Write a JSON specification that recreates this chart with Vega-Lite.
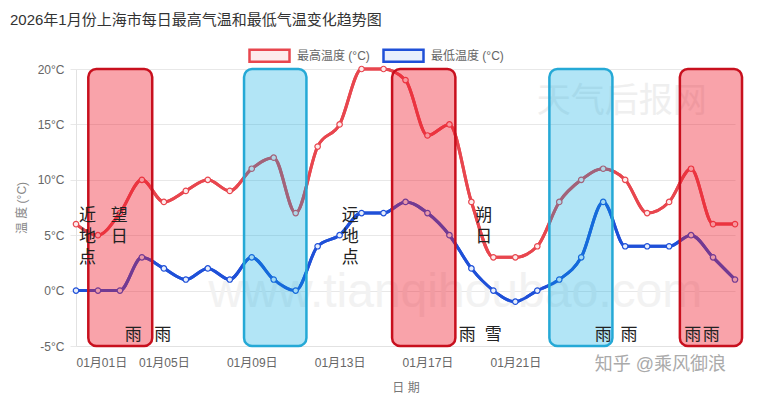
{
  "$schema": "https://vega.github.io/schema/vega-lite/v6.json",
  "width": 659,
  "height": 277,
  "autosize": {"type": "none"},
  "padding": {"left": 76, "top": 69, "right": 28, "bottom": 54},
  "background": "white",
  "config": {
    "font": "'Liberation Sans', 'Noto Sans CJK SC', sans-serif",
    "view": {"stroke": null}
  },
  "title": {
    "text": "2026年1月份上海市每日最高气温和最低气温变化趋势图",
    "anchor": "start",
    "frame": "group",
    "dx": -66,
    "dy": 8,
    "offset": 14,
    "fontSize": 15,
    "fontWeight": "normal",
    "color": "#333333"
  },
  "datasets": {
    "temps": [
      {"day": 1, "series": "最高温度 (°C)", "temp": 6},
      {"day": 2, "series": "最高温度 (°C)", "temp": 5},
      {"day": 3, "series": "最高温度 (°C)", "temp": 7},
      {"day": 4, "series": "最高温度 (°C)", "temp": 10},
      {"day": 5, "series": "最高温度 (°C)", "temp": 8},
      {"day": 6, "series": "最高温度 (°C)", "temp": 9},
      {"day": 7, "series": "最高温度 (°C)", "temp": 10},
      {"day": 8, "series": "最高温度 (°C)", "temp": 9},
      {"day": 9, "series": "最高温度 (°C)", "temp": 11},
      {"day": 10, "series": "最高温度 (°C)", "temp": 12},
      {"day": 11, "series": "最高温度 (°C)", "temp": 7},
      {"day": 12, "series": "最高温度 (°C)", "temp": 13},
      {"day": 13, "series": "最高温度 (°C)", "temp": 15},
      {"day": 14, "series": "最高温度 (°C)", "temp": 20},
      {"day": 15, "series": "最高温度 (°C)", "temp": 20},
      {"day": 16, "series": "最高温度 (°C)", "temp": 19},
      {"day": 17, "series": "最高温度 (°C)", "temp": 14},
      {"day": 18, "series": "最高温度 (°C)", "temp": 15},
      {"day": 19, "series": "最高温度 (°C)", "temp": 8},
      {"day": 20, "series": "最高温度 (°C)", "temp": 3},
      {"day": 21, "series": "最高温度 (°C)", "temp": 3},
      {"day": 22, "series": "最高温度 (°C)", "temp": 4},
      {"day": 23, "series": "最高温度 (°C)", "temp": 8},
      {"day": 24, "series": "最高温度 (°C)", "temp": 10},
      {"day": 25, "series": "最高温度 (°C)", "temp": 11},
      {"day": 26, "series": "最高温度 (°C)", "temp": 10},
      {"day": 27, "series": "最高温度 (°C)", "temp": 7},
      {"day": 28, "series": "最高温度 (°C)", "temp": 8},
      {"day": 29, "series": "最高温度 (°C)", "temp": 11},
      {"day": 30, "series": "最高温度 (°C)", "temp": 6},
      {"day": 31, "series": "最高温度 (°C)", "temp": 6},
      {"day": 1, "series": "最低温度 (°C)", "temp": 0},
      {"day": 2, "series": "最低温度 (°C)", "temp": 0},
      {"day": 3, "series": "最低温度 (°C)", "temp": 0},
      {"day": 4, "series": "最低温度 (°C)", "temp": 3},
      {"day": 5, "series": "最低温度 (°C)", "temp": 2},
      {"day": 6, "series": "最低温度 (°C)", "temp": 1},
      {"day": 7, "series": "最低温度 (°C)", "temp": 2},
      {"day": 8, "series": "最低温度 (°C)", "temp": 1},
      {"day": 9, "series": "最低温度 (°C)", "temp": 3},
      {"day": 10, "series": "最低温度 (°C)", "temp": 1},
      {"day": 11, "series": "最低温度 (°C)", "temp": 0},
      {"day": 12, "series": "最低温度 (°C)", "temp": 4},
      {"day": 13, "series": "最低温度 (°C)", "temp": 5},
      {"day": 14, "series": "最低温度 (°C)", "temp": 7},
      {"day": 15, "series": "最低温度 (°C)", "temp": 7},
      {"day": 16, "series": "最低温度 (°C)", "temp": 8},
      {"day": 17, "series": "最低温度 (°C)", "temp": 7},
      {"day": 18, "series": "最低温度 (°C)", "temp": 5},
      {"day": 19, "series": "最低温度 (°C)", "temp": 2},
      {"day": 20, "series": "最低温度 (°C)", "temp": 0},
      {"day": 21, "series": "最低温度 (°C)", "temp": -1},
      {"day": 22, "series": "最低温度 (°C)", "temp": 0},
      {"day": 23, "series": "最低温度 (°C)", "temp": 1},
      {"day": 24, "series": "最低温度 (°C)", "temp": 3},
      {"day": 25, "series": "最低温度 (°C)", "temp": 8},
      {"day": 26, "series": "最低温度 (°C)", "temp": 4},
      {"day": 27, "series": "最低温度 (°C)", "temp": 4},
      {"day": 28, "series": "最低温度 (°C)", "temp": 4},
      {"day": 29, "series": "最低温度 (°C)", "temp": 5},
      {"day": 30, "series": "最低温度 (°C)", "temp": 3},
      {"day": 31, "series": "最低温度 (°C)", "temp": 1}
    ],
    "boxes": [
      {"start": 1.56, "end": 4.47, "low": -5, "high": 20, "kind": "warm"},
      {"start": 8.65, "end": 11.49, "low": -5, "high": 20, "kind": "cool"},
      {"start": 15.39, "end": 18.27, "low": -5, "high": 20, "kind": "warm"},
      {"start": 22.55, "end": 25.42, "low": -5, "high": 20, "kind": "cool"},
      {"start": 28.49, "end": 31.32, "low": -5, "high": 20, "kind": "warm"}
    ],
    "events": [
      {"day": 1.52, "temp": 7.5, "label": "近\n地\n点"},
      {"day": 2.97, "temp": 7.5, "label": "望\n日"},
      {"day": 13.49, "temp": 7.5, "label": "远\n地\n点"},
      {"day": 19.56, "temp": 7.5, "label": "朔\n日"}
    ],
    "weather": [
      {"day": 3.61, "temp": -4, "label": "雨"},
      {"day": 4.95, "temp": -4, "label": "雨"},
      {"day": 18.81, "temp": -4, "label": "雨"},
      {"day": 19.99, "temp": -4, "label": "雪"},
      {"day": 25.0, "temp": -4, "label": "雨"},
      {"day": 26.17, "temp": -4, "label": "雨"},
      {"day": 29.08, "temp": -4, "label": "雨"},
      {"day": 29.92, "temp": -4, "label": "雨"}
    ],
    "mark1": [{"day": 25.84, "temp": 17, "label": "天气后报网"}],
    "mark2": [{"day": 18.27, "temp": -1.44, "label": "www.tianqihoubao.com"}],
    "mark3": [{"day": 27.6, "temp": -6.68, "label": "知乎 @乘风御浪"}]
  },
  "layer": [
    {
      "data": {"name": "temps"},
      "mark": {"type": "line", "interpolate": "monotone", "strokeWidth": 3},
      "encoding": {
        "x": {
          "field": "day", "type": "quantitative",
          "scale": {"domain": [1, 31], "nice": false, "zero": false},
          "axis": {
            "values": [1, 5, 9, 13, 17, 21],
            "labelExpr": "'01月' + (datum.value < 10 ? '0' : '') + datum.value + '日'",
            "title": "日 期",
            "grid": false,
            "ticks": false,
            "domainColor": "#e2e2e2",
            "labelColor": "#666666",
            "labelFontSize": 12,
            "labelPadding": 11,
            "titleColor": "#777777",
            "titleFontSize": 12,
            "titleFontWeight": "normal",
            "titlePadding": 14
          }
        },
        "y": {
          "field": "temp", "type": "quantitative",
          "scale": {"domain": [-5, 20], "nice": false, "zero": false},
          "axis": {
            "values": [-5, 0, 5, 10, 15, 20],
            "labelExpr": "datum.value + '°C'",
            "title": "温 度 (°C)",
            "grid": true,
            "gridColor": "#e8e8e8",
            "domainColor": "#e2e2e2",
            "tickColor": "#e8e8e8",
            "tickSize": 6,
            "labelColor": "#666666",
            "labelFontSize": 12,
            "labelPadding": 6,
            "titleColor": "#888888",
            "titleFontSize": 12,
            "titleFontWeight": "normal",
            "titlePadding": 9
          }
        },
        "stroke": {
          "field": "series", "type": "nominal",
          "scale": {"domain": ["最高温度 (°C)", "最低温度 (°C)"], "range": ["#e8464e", "#1f50d8"]},
          "legend": {
            "orient": "none", "legendX": 172, "legendY": -35, "direction": "horizontal", "title": null,
            "symbolType": "M-1,-0.3H1V0.3H-1Z", "symbolSize": 1600, "symbolStrokeWidth": 2.5,
            "labelFontSize": 12, "labelColor": "#666666", "labelOffset": 6, "columnPadding": 8
          }
        }
      }
    },
    {
      "data": {"name": "mark1"},
      "mark": {"type": "text", "fontSize": 34, "color": "#efefef", "align": "center", "baseline": "middle"},
      "encoding": {
        "x": {"field": "day", "type": "quantitative", "scale": {"domain": [1, 31], "nice": false, "zero": false}},
        "y": {"field": "temp", "type": "quantitative", "scale": {"domain": [-5, 20], "nice": false, "zero": false}},
        "text": {"field": "label"}
      }
    },
    {
      "data": {"name": "mark2"},
      "mark": {"type": "text", "fontSize": 48, "color": "#f2f2f2", "align": "center", "baseline": "alphabetic"},
      "encoding": {
        "x": {"field": "day", "type": "quantitative", "scale": {"domain": [1, 31], "nice": false, "zero": false}},
        "y": {"field": "temp", "type": "quantitative", "scale": {"domain": [-5, 20], "nice": false, "zero": false}},
        "text": {"field": "label"}
      }
    },
    {
      "data": {"name": "temps"},
      "mark": {"type": "line", "interpolate": "monotone", "strokeWidth": 3},
      "encoding": {
        "x": {"field": "day", "type": "quantitative", "scale": {"domain": [1, 31], "nice": false, "zero": false}},
        "y": {"field": "temp", "type": "quantitative", "scale": {"domain": [-5, 20], "nice": false, "zero": false}},
        "stroke": {
          "field": "series", "type": "nominal",
          "scale": {"domain": ["最高温度 (°C)", "最低温度 (°C)"], "range": ["#e8464e", "#1f50d8"]}
        }
      }
    },
    {
      "data": {"name": "temps"},
      "mark": {"type": "point", "filled": true, "size": 30, "strokeWidth": 1.2, "opacity": 1},
      "encoding": {
        "x": {"field": "day", "type": "quantitative", "scale": {"domain": [1, 31], "nice": false, "zero": false}},
        "y": {"field": "temp", "type": "quantitative", "scale": {"domain": [-5, 20], "nice": false, "zero": false}},
        "stroke": {
          "field": "series", "type": "nominal",
          "scale": {"domain": ["最高温度 (°C)", "最低温度 (°C)"], "range": ["#e8464e", "#1f50d8"]}
        },
        "fill": {
          "field": "series", "type": "nominal",
          "scale": {"domain": ["最高温度 (°C)", "最低温度 (°C)"], "range": ["#fdebec", "#e8effc"]},
          "legend": {
            "orient": "none", "legendX": 172, "legendY": -35, "direction": "horizontal", "title": null,
            "symbolType": "M-1,-0.3H1V0.3H-1Z", "symbolSize": 1600, "symbolStrokeWidth": 2.5,
            "labelFontSize": 12, "labelColor": "#666666", "labelOffset": 6, "columnPadding": 8
          }
        }
      }
    },
    {
      "data": {"name": "boxes"},
      "transform": [{"filter": "datum.kind === 'warm'"}],
      "mark": {"type": "rect", "fill": "#f0182a", "fillOpacity": 0.4, "stroke": "#c8101e", "strokeWidth": 2.5, "cornerRadius": 8},
      "encoding": {
        "x": {"field": "start", "type": "quantitative", "scale": {"domain": [1, 31], "nice": false, "zero": false}},
        "x2": {"field": "end"},
        "y": {"field": "low", "type": "quantitative", "scale": {"domain": [-5, 20], "nice": false, "zero": false}},
        "y2": {"field": "high"}
      }
    },
    {
      "data": {"name": "boxes"},
      "transform": [{"filter": "datum.kind === 'cool'"}],
      "mark": {"type": "rect", "fill": "#00a8e0", "fillOpacity": 0.3, "stroke": "#25a9d6", "strokeWidth": 2.5, "cornerRadius": 8},
      "encoding": {
        "x": {"field": "start", "type": "quantitative", "scale": {"domain": [1, 31], "nice": false, "zero": false}},
        "x2": {"field": "end"},
        "y": {"field": "low", "type": "quantitative", "scale": {"domain": [-5, 20], "nice": false, "zero": false}},
        "y2": {"field": "high"}
      }
    },
    {
      "data": {"name": "events"},
      "mark": {"type": "text", "fontSize": 17, "color": "#222222", "align": "center", "baseline": "top", "lineBreak": "\n", "lineHeight": 21},
      "encoding": {
        "x": {"field": "day", "type": "quantitative", "scale": {"domain": [1, 31], "nice": false, "zero": false}},
        "y": {"field": "temp", "type": "quantitative", "scale": {"domain": [-5, 20], "nice": false, "zero": false}},
        "text": {"field": "label"}
      }
    },
    {
      "data": {"name": "weather"},
      "mark": {"type": "text", "fontSize": 17, "color": "#222222", "align": "center", "baseline": "middle"},
      "encoding": {
        "x": {"field": "day", "type": "quantitative", "scale": {"domain": [1, 31], "nice": false, "zero": false}},
        "y": {"field": "temp", "type": "quantitative", "scale": {"domain": [-5, 20], "nice": false, "zero": false}},
        "text": {"field": "label"}
      }
    },
    {
      "data": {"name": "mark3"},
      "mark": {"type": "text", "fontSize": 18, "color": "#aaaaaa", "align": "center", "baseline": "middle"},
      "encoding": {
        "x": {"field": "day", "type": "quantitative", "scale": {"domain": [1, 31], "nice": false, "zero": false}},
        "y": {"field": "temp", "type": "quantitative", "scale": {"domain": [-5, 20], "nice": false, "zero": false}},
        "text": {"field": "label"}
      }
    }
  ]
}
